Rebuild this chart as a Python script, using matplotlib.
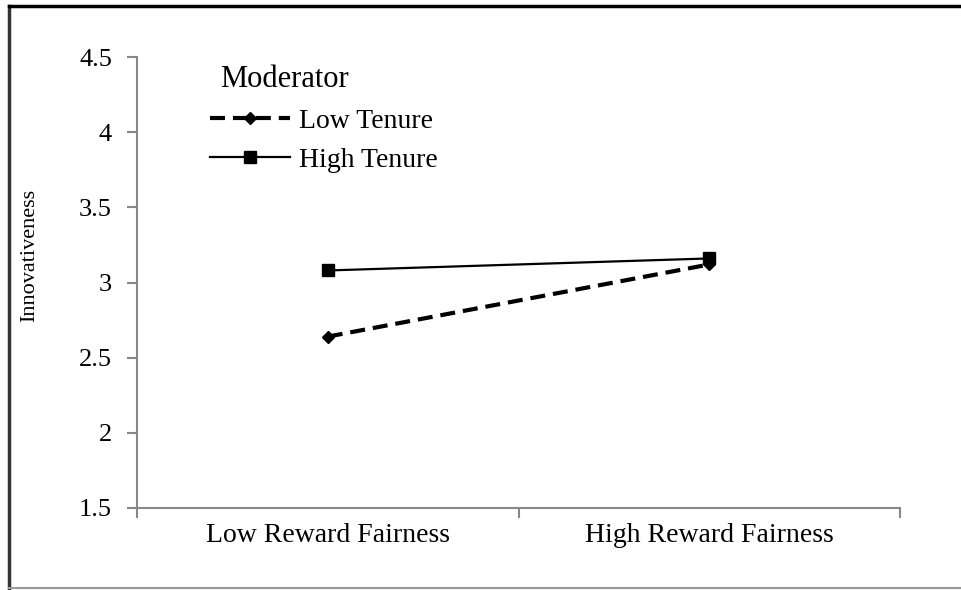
import matplotlib.pyplot as plt
from matplotlib.lines import Line2D

plt.rcParams['font.family'] = ['Liberation Serif', 'DejaVu Serif']

categories = ['Low Reward Fairness', 'High Reward Fairness']
low_tenure = [2.64, 3.12]
high_tenure = [3.08, 3.16]
y_ticks = [1.5, 2, 2.5, 3, 3.5, 4, 4.5]
y_tick_labels = ['1.5', '2', '2.5', '3', '3.5', '4', '4.5']

W, H = 961, 590
fig = plt.figure(figsize=(W / 100, H / 100), dpi=100)
ax = fig.add_axes([137 / W, 1 - 508 / H, (900 - 137) / W, (508 - 57) / H])

x = list(range(len(categories)))
ax.plot(x, low_tenure, color='black', linestyle=(0, (3.6, 1.9)), linewidth=3,
        marker='D', markersize=6, label='Low Tenure')
ax.plot(x, high_tenure, color='black', linestyle='-', linewidth=1.6,
        marker='s', markersize=8.5, label='High Tenure')

ax.set_xlim(-0.5, 1.5)
ax.set_ylim(1.5, 4.5)
ax.set_yticks(y_ticks)
ax.set_yticklabels(y_tick_labels, fontsize=19)
ax.set_xticks([-0.5, 0.5, 1.5])
ax.set_xticklabels([])
ax.set_xticks(x, minor=True)
ax.set_xticklabels(categories, minor=True, fontsize=20)
ax.tick_params(axis='x', which='minor', length=0, pad=11)
ax.tick_params(axis='x', which='major', length=7, color='#888888', width=1.5)
ax.tick_params(axis='y', length=7, color='#888888', width=1.5, pad=11)

for side in ['top', 'right']:
    ax.spines[side].set_visible(False)
for side in ['left', 'bottom']:
    ax.spines[side].set_color('#888888')
    ax.spines[side].set_linewidth(1.5)

ax.set_ylabel('Innovativeness', fontsize=16)
ax.yaxis.set_label_coords(-0.128, 0.56)

leg = ax.legend(title='Moderator', loc='upper left', bbox_to_anchor=(0.07, 1.025),
                frameon=False, fontsize=20, title_fontsize=22, handlelength=2.9,
                handletextpad=0.3, labelspacing=0.5, borderpad=0.2)
leg._legend_box.align = 'left'
leg.get_title().set_position((10, 0))

# outer frame
fig.add_artist(Line2D([9 / W, 9 / W], [1 - 6 / H, 1 - 588 / H], color='#333333', linewidth=2.5))
fig.add_artist(Line2D([9 / W, 1], [1 - 6 / H, 1 - 6 / H], color='black', linewidth=2.5))
fig.add_artist(Line2D([9 / W, 1], [1 - 588 / H, 1 - 588 / H], color='#999999', linewidth=1.5))

fig.savefig('out.png', dpi=100)
